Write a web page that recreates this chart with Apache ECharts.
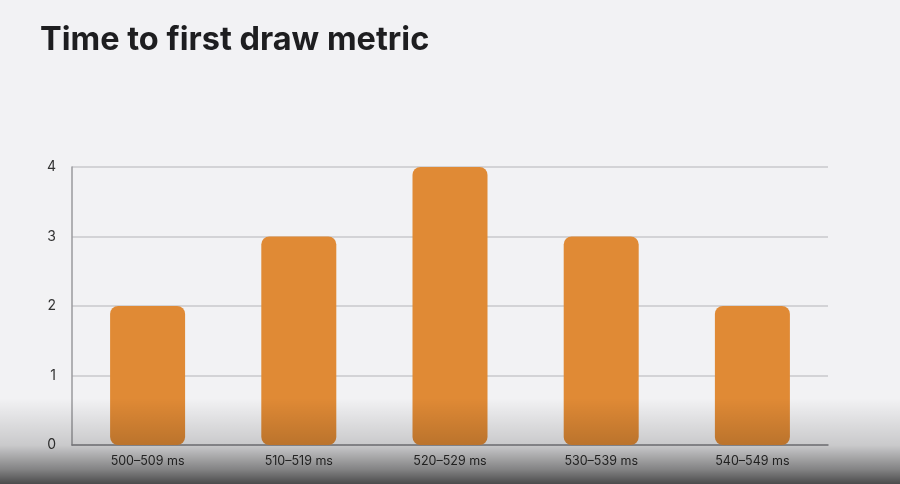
<!DOCTYPE html>
<html>
<head>
<meta charset="utf-8">
<script src="https://cdn.jsdelivr.net/npm/echarts@6/dist/echarts.min.js"></script>
<style>
  html, body { margin: 0; padding: 0; background: #f2f2f4; }
  #container { width: 900px; height: 484px; }
</style>
</head>
<body>
<div id="container"></div>
<script>
let categories = ['500–509 ms', '510–519 ms', '520–529 ms', '530–539 ms', '540–549 ms'];
let counts = [2, 3, 4, 3, 2];
let yTicks = [0, 1, 2, 3, 4];

let dom = document.getElementById('container');
let myChart = echarts.init(dom);
let option = {
    backgroundColor: '#f2f2f4',
    title: {
        text: 'Time to first draw metric',
        left: 35,
        top: 19,
        textStyle: {
            fontFamily: 'Inter',
            fontWeight: 'bold',
            fontSize: 32.5,
            color: '#1e1e20'
        }
    },
    grid: {
        left: 72,
        right: 72,
        top: 167,
        bottom: 39
    },
    xAxis: {
        type: 'category',
        data: categories,
        axisLine: { lineStyle: { color: '#8a8a8e', width: 1.5 } },
        axisTick: { show: false },
        axisLabel: {
            color: '#333',
            fontFamily: 'Inter',
            fontSize: 12.5,
            margin: 10
        }
    },
    yAxis: {
        type: 'value',
        min: yTicks[0],
        max: yTicks[yTicks.length - 1],
        interval: 1,
        axisLine: { show: true, lineStyle: { color: '#9a9a9e', width: 1.5 } },
        axisTick: { show: false },
        axisLabel: {
            color: '#333',
            fontFamily: 'Inter',
            fontSize: 14,
            margin: 16
        },
        splitLine: { lineStyle: { color: '#c8c8cc', width: 1.5 } }
    },
    series: [{
        type: 'bar',
        data: counts,
        barWidth: 75,
        itemStyle: {
            color: '#e08a35',
            borderRadius: 8
        }
    }],
    // dark fade at the bottom, as in the video frame
    graphic: [{
        type: 'rect',
        z: 100,
        silent: true,
        shape: { x: 0, y: 398, width: 900, height: 86 },
        style: {
            fill: new echarts.graphic.LinearGradient(0, 0, 0, 1, [
                { offset: 0, color: 'rgba(0,0,0,0)' },
                { offset: 0.55, color: 'rgba(0,0,0,0.17)' },
                { offset: 0.83, color: 'rgba(0,0,0,0.46)' },
                { offset: 1, color: 'rgba(0,0,0,0.69)' }
            ])
        }
    }]
};
myChart.setOption(option);
</script>
</body>
</html>
